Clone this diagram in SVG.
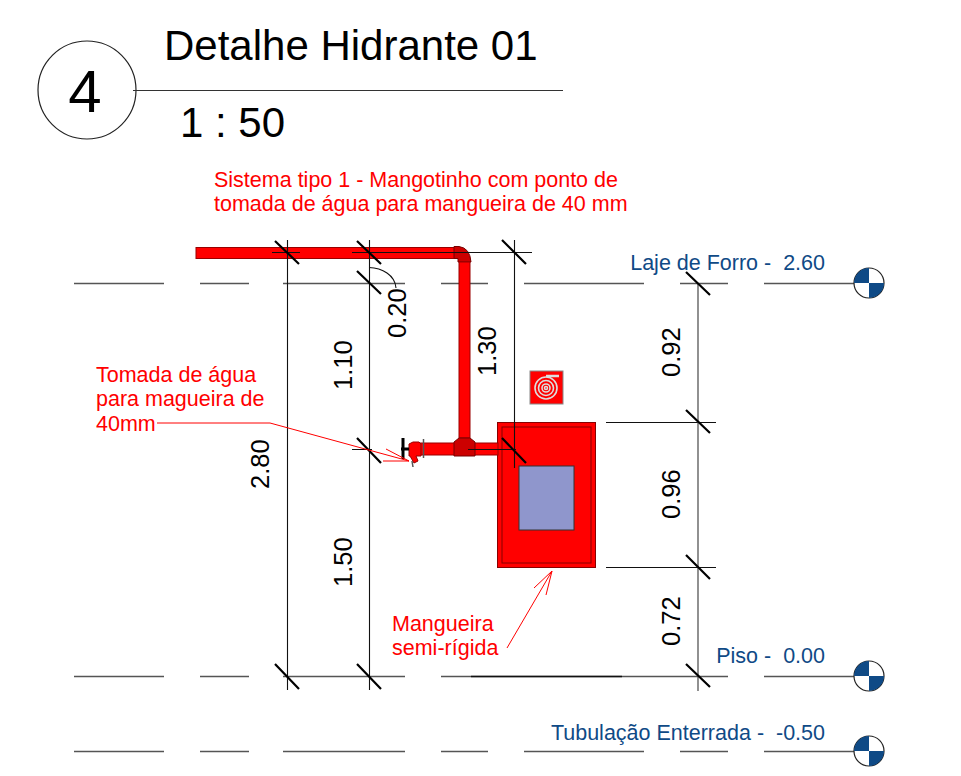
<svg xmlns="http://www.w3.org/2000/svg" width="961" height="776" viewBox="0 0 961 776">
<style>
text{font-family:"Liberation Sans",Arial,sans-serif;white-space:pre}
.lv{stroke:#555;stroke-width:1.3;fill:none}
.dim{stroke:#111;stroke-width:1.1;fill:none}
.tick{stroke:#000;stroke-width:2.2;fill:none}
.red{fill:#f00;font-size:21.5px}
.blue{fill:#0f4a86;font-size:21.5px}
.dt{fill:#000;font-size:25.500px}
.pipe{fill:#f00;stroke:#900;stroke-width:1}
.dk{fill:#c00;stroke:#700;stroke-width:1}
.ann{stroke:#f00;stroke-width:1;fill:none}
</style>
<defs>
<g id="lvl"><circle r="15" fill="#fff" stroke="#222" stroke-width="1.2"/><path d="M0 0V-15A15 15 0 0 0-15 0ZM0 0V15A15 15 0 0 0 15 0Z" fill="#0f4a86"/></g>
</defs>
<g id="title">
<circle cx="87" cy="90" r="49" fill="#fff" stroke="#222" stroke-width="1.2"/>
<text x="85" y="112" font-size="60" text-anchor="middle" fill="#000">4</text>
<line x1="133" y1="90.500" x2="563" y2="90.500" stroke="#333" stroke-width="1.2"/>
<text x="164" y="60" font-size="42" fill="#000">Detalhe Hidrante 01</text>
<text x="180" y="137" font-size="42" fill="#000">1 : 50</text>
</g>
<g id="levels">
<path class="lv" d="M74 283.500H164M200 283.500H249M283 283.500H405M441 283.500H488M524 283.500H644M680 283.500H728M764 283.500H855"/>
<path class="lv" d="M74 676.500H164M200 676.500H249M283 676.500H405M441 676.500H728M764 676.500H855"/>
<path d="M471 676.500H622" stroke="#111" stroke-width="1.300"/>
<path class="lv" d="M74 751.500H164M200 751.500H249M283 751.500H405M441 751.500H488M524 751.500H644M680 751.500H728M764 751.500H855"/>
</g>
<g id="level-laje"><use href="#lvl" x="869" y="283"/><text class="blue" x="825" y="270" text-anchor="end">Laje de Forro -  2.60</text></g>
<g id="level-piso"><use href="#lvl" x="869" y="676"/><text class="blue" x="825" y="663" text-anchor="end">Piso -  0.00</text></g>
<g id="level-tub"><use href="#lvl" x="869" y="751"/><text class="blue" x="825" y="740" text-anchor="end">Tubulação Enterrada -  -0.50</text></g>
<g id="hose-cabinet">
<rect x="497.500" y="422.500" width="98" height="145" fill="#f00" stroke="#800" stroke-width="1"/>
<rect x="502" y="427" width="89" height="136" fill="none" stroke="#800" stroke-width="1"/>
<rect x="519" y="466" width="55" height="64" fill="#8f96cc" stroke="#333" stroke-width="1"/>
</g>
<g id="hose-sign">
<rect x="530" y="371" width="33" height="33" fill="#f00" stroke="#888" stroke-width="1"/>
<g fill="none" stroke="#ddd" stroke-width="1.600"><circle cx="546" cy="388" r="11"/><circle cx="546" cy="388" r="7.500"/><circle cx="546" cy="388" r="4"/><circle cx="546" cy="388" r="1.500"/><path d="M546 376H559" stroke-width="2.500"/></g>
</g>
<g id="pipes">
<rect class="pipe" x="196" y="247.500" width="259" height="11"/>
<path class="dk" d="M454 246.500H459Q470 248 471 262H458V258.500H454Z"/>
<path class="pipe" d="M459 262H470V438H459Z"/>
<rect class="pipe" x="420" y="443" width="78" height="12"/>
<path class="dk" d="M454 442L459 438H470L475 442V456H454Z"/>
<path class="pipe" d="M409 444L413 442H419L421 444V456H416L418 461L414 463L410 456H409Z"/>
<path d="M423.500 439V458" stroke="#555" stroke-width="1.500"/>
<path d="M403 438V459M401 449H409" stroke="#000" stroke-width="3" fill="none"/>
<path d="M412 461L413 467" stroke="#555" stroke-width="1.500"/>
</g>
<g id="connectors">
<path class="dim" d="M287.500 240V690M369.500 240V690M514.500 240V468M352 252.500H532M272 252.500H300M352 449.500H372M468 449.500H516M606 422.500H716M606 567.500H716"/>
<path d="M698 283V691" stroke="#555" stroke-width="1.300" fill="none"/>
<path class="dim" stroke-width="0.800" d="M369 267.500C382 268 395 275 396 288"/>
<path class="tick" d="M275 241L299 264M275 664L299 689M357 241L381 264M357 271L381 294M357 438L381 463M357 664L381 689M502 240L526 264M502 438L526 463M686 272L710 295M686 410L710 433M686 555L710 579M686 664L710 687"/>
<text class="dt" transform="translate(269 489) rotate(-90)">2.80</text>
<text class="dt" transform="translate(352 390) rotate(-90)">1.10</text>
<text class="dt" transform="translate(352 587) rotate(-90)">1.50</text>
<text class="dt" transform="translate(406 338) rotate(-90)">0.20</text>
<text class="dt" transform="translate(496 376) rotate(-90)">1.30</text>
<text class="dt" transform="translate(680 377) rotate(-90)">0.92</text>
<text class="dt" transform="translate(680 519) rotate(-90)">0.96</text>
<text class="dt" transform="translate(680 646) rotate(-90)">0.72</text>
</g>
<g id="annotations">
<text class="red" x="214" y="187">Sistema tipo 1 - Mangotinho com ponto de</text>
<text class="red" x="214" y="211">tomada de água para mangueira de 40 mm</text>
<text class="red" x="96" y="382">Tomada de água</text>
<text class="red" x="96" y="406">para magueira de</text>
<text class="red" x="96" y="431">40mm</text>
<path class="ann" d="M157 423H270L409 461M386 449L409 461L383 461"/>
<text class="red" x="392" y="631">Mangueira</text>
<text class="red" x="392" y="655">semi-rígida</text>
<path class="ann" d="M507 648L552 571M534 588L552 571L546 595"/>
</g>
</svg>
